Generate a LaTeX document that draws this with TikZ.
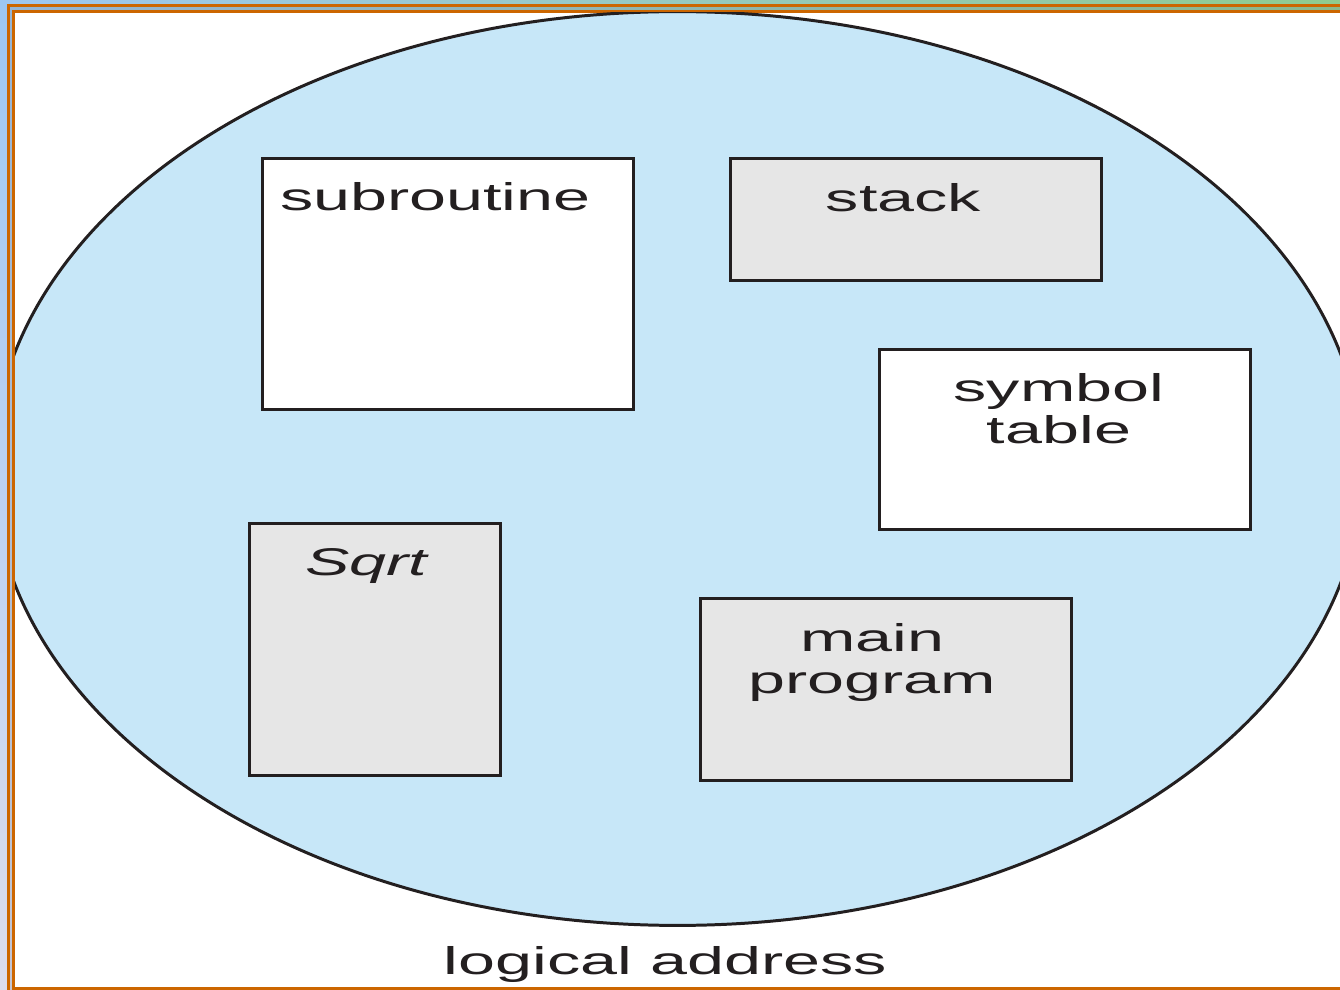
\documentclass[tikz,border=0pt]{standalone}
\usepackage{fontspec}
\usepackage{tikz}
\usetikzlibrary{positioning}

\newfontfamily\segfont[FakeStretch=1.72]{Liberation Sans}

\definecolor{framebrown}{RGB}{204,102,0}
\definecolor{bandblue}{RGB}{157,199,242}
\definecolor{bandgreen}{RGB}{143,203,143}
\definecolor{bandlav}{RGB}{220,221,240}
\definecolor{spaceblue}{RGB}{199,231,248}
\definecolor{seggray}{RGB}{230,230,230}
\definecolor{inkline}{RGB}{35,31,32}

\begin{document}
\begin{tikzpicture}[x=0.02cm,y=-0.02cm,
	seg/.style={draw=inkline,line width=1.7pt,inner sep=0pt,minimum width=7.44cm},
	lbl/.style={anchor=base,inner sep=0pt,align=center,text=inkline,
		font=\segfont\fontsize{22}{23.8}\selectfont}]
	\useasboundingbox (0,0) rectangle (1340,990);

	% slide frame
	\fill[left color=bandblue,right color=bandgreen] (0,0) rectangle (1340,13);
	\fill[top color=bandblue,bottom color=bandlav] (0,0) rectangle (15,990);
	\fill[gray,opacity=0.25] (9.5,990) |- (1340,7) -- (1340,10) -| (12.5,990) -- cycle;
	\draw[framebrown,line width=1.5pt] (8.2,995) |- (1345,5.3);
	\draw[framebrown,fill=white,line width=1.5pt] (13.8,11.2) rectangle (1350,988.5);

	% logical address space
	\begin{scope}
		\clip (15,12.5) rectangle (1340,987);
		\filldraw[fill=spaceblue,draw=inkline,line width=1.7pt]
			(677.5,468.5) ellipse [x radius=13.7cm,y radius=9.14cm];
	\end{scope}

	\node[seg,fill=white,minimum height=5.04cm]   (sub)    at (448,284)    {};
	\node[seg,fill=seggray,minimum height=2.46cm] (stack)  at (916,219.5)  {};
	\node[seg,fill=white,minimum height=3.62cm]   (symtab) at (1065,439.5) {};
	\node[seg,fill=seggray,minimum width=5.04cm,minimum height=5.06cm] (sqrt) at (375,649.5) {};
	\node[seg,fill=seggray,minimum height=3.66cm] (main)   at (886,689.5)  {};

	% multi-line labels sit on their last baseline
	\node[lbl] (subtxt)    at (435.5,211) {subroutine};
	\node[lbl] (stacktxt)  at (903.5,212) {stack};
	\node[lbl] (symtabtxt) at (1059,443)  {symbol\\table};
	\node[lbl] (sqrttxt)   at (366,575)   {\itshape Sqrt};
	\node[lbl] (maintxt)   at (872.5,693) {main\\program};

	\node[lbl] (spacetxt)  at (665.5,974) {logical address};
\end{tikzpicture}
\end{document}
